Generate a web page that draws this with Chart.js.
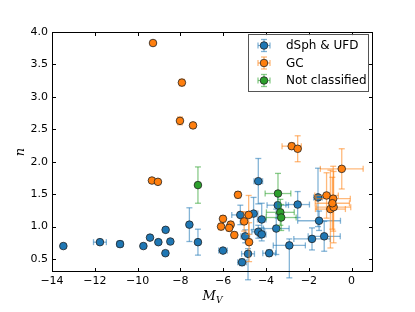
<!DOCTYPE html>
<html>
<head>
<meta charset="utf-8">
<script src="https://cdn.jsdelivr.net/npm/chart.js@4"></script>
<style>
  html, body { margin: 0; padding: 0; background: #fff; }
  #wrap { width: 415px; height: 312px; }
</style>
</head>
<body>
<div id="wrap"><canvas id="myChart"></canvas></div>
<script>
// - ticks
const xTicks = [-14, -12, -10, -8, -6, -4, -2, 0]
const yTicks = [0.5, 1.0, 1.5, 2.0, 2.5, 3.0, 3.5, 4.0]

// - dSph & UFD
const dsphX = [-13.47, -11.76, -10.82, -9.73, -9.42, -9.03, -8.69, -8.70, -8.47, -7.58, -7.18, -6.01, -5.12, -4.84, -4.97, -5.20, -4.58, -4.20, -4.36, -4.20, -4.36, -3.85, -3.52, -3.45, -2.91, -2.52, -1.57, -1.52, -1.85, -1.28]
const dsphY = [0.70, 0.76, 0.73, 0.70, 0.83, 0.76, 0.95, 0.59, 0.77, 1.03, 0.76, 0.63, 0.45, 0.58, 0.85, 1.18, 1.20, 1.11, 0.92, 0.88, 1.70, 0.59, 0.97, 1.33, 0.71, 1.34, 1.45, 1.09, 0.81, 0.85]
const dsphXErr = [0.08, 0.30, 0.15, 0.08, 0.08, 0.08, 0.08, 0.08, 0.08, 0.05, 0.05, 0.20, 0.20, 0.30, 0.20, 0.40, 0.20, 0.20, 0.30, 0.20, 0.20, 0.30, 0.60, 0.50, 0.75, 0.55, 0.20, 1.00, 0.85, 0.75]
const dsphYLo = [0.03, 0.03, 0.05, 0.03, 0.03, 0.03, 0.03, 0.03, 0.03, 0.26, 0.20, 0.03, 0.05, 0.40, 0.10, 0.15, 0.25, 0.25, 0.10, 0.10, 0.35, 0.05, 0.40, 0.20, 0.50, 0.20, 0.45, 0.15, 0.17, 0.23]
const dsphYHi = [0.03, 0.03, 0.05, 0.03, 0.03, 0.03, 0.03, 0.03, 0.03, 0.26, 0.20, 0.03, 0.05, 0.08, 0.10, 0.15, 0.25, 0.25, 0.10, 0.10, 0.35, 0.05, 0.30, 0.20, 0.10, 0.20, 0.45, 0.15, 0.17, 0.23]

// - GC
const gcX = [-9.28, -7.93, -8.02, -7.41, -9.33, -9.05, -5.31, -6.01, -6.10, -5.65, -5.72, -5.02, -4.81, -5.48, -4.79, -2.80, -2.52, -0.46, -1.17, -0.86, -0.99, -0.84, -0.90]
const gcY = [3.83, 3.22, 2.63, 2.56, 1.71, 1.69, 1.49, 1.12, 1.00, 1.03, 0.98, 1.08, 1.18, 0.87, 0.76, 2.24, 2.20, 1.89, 1.48, 1.43, 1.27, 1.30, 1.36]
const gcXErr = [0.05, 0.05, 0.05, 0.05, 0.05, 0.05, 0.10, 0.05, 0.05, 0.10, 0.10, 0.10, 0.10, 0.10, 0.10, 0.45, 0.10, 1.00, 0.55, 0.80, 0.70, 0.80, 0.80]
const gcYErr = [0.02, 0.05, 0.06, 0.04, 0.02, 0.02, 0.05, 0.05, 0.05, 0.05, 0.05, 0.15, 0.30, 0.05, 0.30, 0.05, 0.20, 0.31, 0.35, 0.50, 0.60, 0.55, 0.40]

// - Not classified
const ncX = [-7.18, -3.44, -3.33, -3.29]
const ncY = [1.64, 1.51, 1.22, 1.14]
const ncXErr = [0.05, 0.60, 0.65, 0.70]
const ncYErr = [0.28, 0.31, 0.20, 0.20]

const series = [
  { label: 'dSph & UFD', color: '#1f77b4', bar: 'rgba(31,119,180,0.55)', x: dsphX, y: dsphY, xe: dsphXErr, lo: dsphYLo, hi: dsphYHi },
  { label: 'GC', color: '#ff7f0e', bar: 'rgba(255,127,14,0.55)', x: gcX, y: gcY, xe: gcXErr, lo: gcYErr, hi: gcYErr },
  { label: 'Not classified', color: '#2ca02c', bar: 'rgba(44,160,44,0.55)', x: ncX, y: ncY, xe: ncXErr, lo: ncYErr, hi: ncYErr }
]

const fmt = v => (v < 0 ? '\u2212' + Math.abs(v) : '' + v)

function drawBar(ctx, x1, y1, x2, y2) {
  ctx.beginPath(); ctx.moveTo(x1, y1); ctx.lineTo(x2, y2); ctx.stroke()
}

// error bars under each dataset's markers
const errorBars = {
  id: 'errorBars',
  beforeDatasetDraw(chart, args) {
    const s = series[args.index]
    const xs = chart.scales.x, ys = chart.scales.y
    const ctx = chart.ctx
    ctx.save()
    ctx.strokeStyle = s.bar
    ctx.lineWidth = 1.3
    const cap = 3
    for (let i = 0; i < s.x.length; i++) {
      const px = xs.getPixelForValue(s.x[i]), py = ys.getPixelForValue(s.y[i])
      const x1 = xs.getPixelForValue(s.x[i] - s.xe[i]), x2 = xs.getPixelForValue(s.x[i] + s.xe[i])
      const y1 = ys.getPixelForValue(s.y[i] - s.lo[i]), y2 = ys.getPixelForValue(s.y[i] + s.hi[i])
      drawBar(ctx, x1, py, x2, py)
      drawBar(ctx, x1, py - cap, x1, py + cap)
      drawBar(ctx, x2, py - cap, x2, py + cap)
      drawBar(ctx, px, y1, px, y2)
      drawBar(ctx, px - cap, y1, px + cap, y1)
      drawBar(ctx, px - cap, y2, px + cap, y2)
    }
    ctx.restore()
  }
}

// frame, inward ticks, axis titles and legend
const decor = {
  id: 'decor',
  afterDraw(chart) {
    const ctx = chart.ctx
    const a = chart.chartArea
    const xs = chart.scales.x, ys = chart.scales.y
    ctx.save()
    ctx.strokeStyle = '#000'
    ctx.lineWidth = 1
    ctx.strokeRect(a.left + 0.5, a.top + 0.5, a.right - a.left - 1, a.bottom - a.top - 1)
    const t = 4
    xTicks.forEach(v => {
      const p = Math.round(xs.getPixelForValue(v)) + 0.5
      drawBar(ctx, p, a.bottom, p, a.bottom - t)
      drawBar(ctx, p, a.top, p, a.top + t)
    })
    yTicks.forEach(v => {
      const p = Math.round(ys.getPixelForValue(v)) + 0.5
      drawBar(ctx, a.left, p, a.left + t, p)
      drawBar(ctx, a.right, p, a.right - t, p)
    })

    // axis titles
    ctx.fillStyle = '#000'
    ctx.textBaseline = 'alphabetic'
    const cx = (a.left + a.right) / 2
    ctx.font = 'italic 13px "DejaVu Serif"'
    const mW = ctx.measureText('M').width
    ctx.font = 'italic 9px "DejaVu Serif"'
    const vW = ctx.measureText('V').width
    const sx = cx - (mW + vW) / 2
    ctx.font = 'italic 13px "DejaVu Serif"'
    ctx.textAlign = 'left'
    ctx.fillText('M', sx, 300)
    ctx.font = 'italic 9px "DejaVu Serif"'
    ctx.fillText('V', sx + mW, 303)

    ctx.save()
    ctx.translate(24, (a.top + a.bottom) / 2)
    ctx.rotate(-Math.PI / 2)
    ctx.font = 'italic 13px "DejaVu Serif"'
    ctx.textAlign = 'center'
    ctx.fillText('n', 0, 0)
    ctx.restore()

    // legend
    const lx = 248, ly = 34, lw = 120, lh = 57
    ctx.fillStyle = 'rgba(255,255,255,0.9)'
    ctx.fillRect(lx, ly, lw, lh)
    ctx.strokeStyle = '#555'
    ctx.lineWidth = 1
    ctx.strokeRect(lx + 0.5, ly + 0.5, lw, lh)
    series.forEach((s, i) => {
      const my = 45.5 + i * 17.5, mx = 264
      ctx.strokeStyle = s.bar
      ctx.lineWidth = 1.3
      drawBar(ctx, mx - 6, my, mx + 6, my)
      drawBar(ctx, mx - 6, my - 3, mx - 6, my + 3)
      drawBar(ctx, mx + 6, my - 3, mx + 6, my + 3)
      drawBar(ctx, mx, my - 6, mx, my + 6)
      drawBar(ctx, mx - 3, my - 6, mx + 3, my - 6)
      drawBar(ctx, mx - 3, my + 6, mx + 3, my + 6)
      ctx.beginPath()
      ctx.arc(mx, my, 3.8, 0, Math.PI * 2)
      ctx.fillStyle = s.color
      ctx.fill()
      ctx.strokeStyle = '#222'
      ctx.lineWidth = 0.8
      ctx.stroke()
      ctx.fillStyle = '#000'
      ctx.font = '12px "DejaVu Sans"'
      ctx.textAlign = 'left'
      ctx.textBaseline = 'middle'
      ctx.fillText(s.label, 286, my + 0.5)
    })
    ctx.restore()
  }
}

const data = {
  datasets: series.map((s, i) => ({
    label: s.label,
    data: s.x.map((v, j) => ({ x: v, y: s.y[j] })),
    backgroundColor: s.color,
    borderColor: '#222',
    borderWidth: 0.8,
    pointRadius: 3.8,
    pointHoverRadius: 3.8,
    order: 3 - i
  }))
}

const config = {
  type: 'scatter',
  data: data,
  options: {
    responsive: true,
    maintainAspectRatio: false,
    animation: false,
    layout: { padding: { left: 0, right: 42, top: 32, bottom: 0 } },
    plugins: {
      legend: { display: false },
      tooltip: { enabled: false }
    },
    scales: {
      x: {
        type: 'linear',
        min: -14,
        max: 1,
        afterFit: s => { s.height = 40 },
        afterBuildTicks: s => { s.ticks = xTicks.map(v => ({ value: v })) },
        grid: { display: false, drawTicks: false },
        border: { display: false },
        ticks: {
          callback: v => fmt(v),
          color: '#000',
          font: { family: 'DejaVu Sans', size: 11 },
          padding: 3,
          maxRotation: 0
        }
      },
      y: {
        type: 'linear',
        min: 0.3,
        max: 4.0,
        afterFit: s => { s.width = 52 },
        afterBuildTicks: s => { s.ticks = yTicks.map(v => ({ value: v })) },
        grid: { display: false, drawTicks: false },
        border: { display: false },
        ticks: {
          callback: v => v.toFixed(1),
          color: '#000',
          font: { family: 'DejaVu Sans', size: 11 },
          padding: 4
        }
      }
    }
  },
  plugins: [errorBars, decor]
}

const myChart = new Chart(
  document.getElementById('myChart'),
  config
)
</script>
</body>
</html>
